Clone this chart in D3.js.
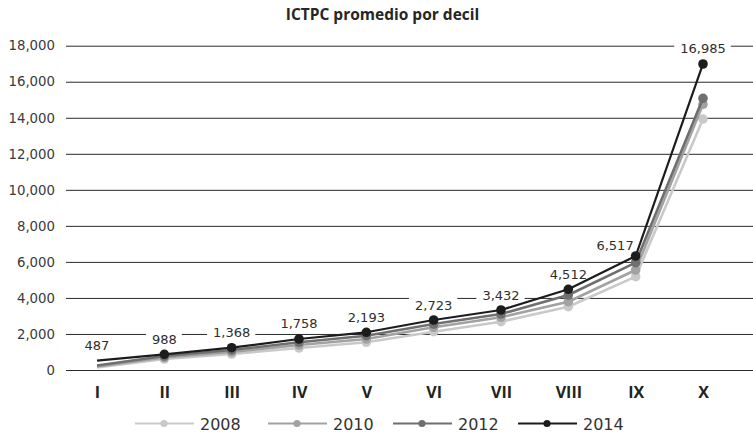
<!DOCTYPE html>
<html>
<head>
<meta charset="utf-8">
<script src="https://cdn.jsdelivr.net/npm/d3@7/dist/d3.min.js"></script>
<style>
  html, body { margin: 0; padding: 0; background: #fff; }
  svg { display: block; }
</style>
</head>
<body>
<svg id="chart" width="753" height="436"></svg>
<script>
// ---------- data ----------
const title = "ICTPC promedio por decil";
const categories = ["I", "II", "III", "IV", "V", "VI", "VII", "VIII", "IX", "X"];
const seriesNames = ["2008", "2010", "2012", "2014"];
const values2008 = [140, 610, 888, 1221, 1538, 2126, 2681, 3514, 5180, 13930];
const values2010 = [194, 694, 999, 1388, 1721, 2370, 2925, 3790, 5550, 14750];
const values2012 = [250, 777, 1110, 1538, 1904, 2553, 3108, 4163, 5956, 15080];
const values2014 = [516, 871, 1238, 1721, 2093, 2775, 3330, 4479, 6328, 16985];
const labels2014 = ["487", "988", "1,368", "1,758", "2,193", "2,723", "3,432", "4,512", "6,517", "16,985"];
const yTicks = [0, 2000, 4000, 6000, 8000, 10000, 12000, 14000, 16000, 18000];

// ---------- styles ----------
const colors = ["#c9c9c9", "#a2a2a2", "#6f6f6f", "#1c1c1c"];
const widths = [2.6, 2.6, 2.6, 2.2];
const numFont = "'DejaVu Sans', sans-serif";
const boldFont = "'Open Sans', sans-serif";

const series = seriesNames.map((name, i) => ({
  name,
  values: [values2008, values2010, values2012, values2014][i],
  color: colors[i],
  width: widths[i]
}));

const svg = d3.select("#chart");

const x = d3.scalePoint().domain(categories).range([97, 703]);
const y = d3.scaleLinear().domain([0, 18000]).range([370, 45.7]);

// title
svg.append("text")
  .attr("x", 382.5).attr("y", 19.5)
  .attr("text-anchor", "middle")
  .attr("font-family", boldFont).attr("font-weight", 700)
  .attr("font-size", 15.5).attr("fill", "#262626")
  .text(title);

// y axis gridlines + labels
const yAxis = d3.axisLeft(y)
  .tickValues(yTicks)
  .tickFormat(d3.format(","))
  .tickSize(-(753 - 66))
  .tickPadding(11);
const yG = svg.append("g").attr("transform", "translate(66,0)").call(yAxis);
yG.select(".domain").remove();
yG.selectAll(".tick line").attr("stroke", "#2a2a2a").attr("stroke-width", 1);
yG.selectAll(".tick text")
  .attr("font-family", numFont).attr("font-size", 13.3)
  .attr("fill", "#3a3a3a");

// x axis labels
const xAxis = d3.axisBottom(x).tickSize(0).tickPadding(0);
const xG = svg.append("g").attr("transform", "translate(0,384)").call(xAxis);
xG.select(".domain").remove();
xG.selectAll(".tick text")
  .attr("font-family", boldFont).attr("font-weight", 700)
  .attr("font-size", 16).attr("fill", "#222")
  .attr("dy", "0.85em");

// data label backgrounds (below lines), texts (above lines)
const lastS = series[3];
const rectG = svg.append("g");
const linesG = svg.append("g");
const textG = svg.append("g");

const labelTexts = textG.selectAll("text")
  .data(labels2014)
  .join("text")
  .attr("x", (d, i) => i === 8 ? x(categories[i]) - 2 : x(categories[i]))
  .attr("y", (d, i) => i === 8 ? y(lastS.values[i]) - 5.5 : y(lastS.values[i]) - 10.5)
  .attr("text-anchor", (d, i) => i === 8 ? "end" : "middle")
  .attr("font-family", numFont).attr("font-size", 13)
  .attr("fill", "#2e2e2e")
  .text(d => d);
labelTexts.each(function () {
  const b = this.getBBox();
  rectG.append("rect")
    .attr("x", b.x - 6).attr("y", b.y - 1)
    .attr("width", b.width + 11).attr("height", b.height + 2)
    .attr("fill", "#fff");
});

// lines
const line = d3.line().x((d, i) => x(categories[i])).y(d => y(d));
series.forEach(s => {
  linesG.append("path")
    .attr("d", line(s.values))
    .attr("fill", "none")
    .attr("stroke", s.color)
    .attr("stroke-width", s.width)
    .attr("stroke-linejoin", "round");
  linesG.selectAll(null)
    .data(s.values.slice(1))
    .join("circle")
    .attr("cx", (d, i) => x(categories[i + 1]))
    .attr("cy", d => y(d))
    .attr("r", 4.8)
    .attr("fill", s.color);
});

// legend
const legendStarts = [135, 268, 393, 518];
const legendY = 423.5;
const leg = svg.append("g");
series.forEach((s, i) => {
  const x0 = legendStarts[i];
  leg.append("line")
    .attr("x1", x0).attr("x2", x0 + 59)
    .attr("y1", legendY).attr("y2", legendY)
    .attr("stroke", s.color).attr("stroke-width", 2.2);
  leg.append("circle")
    .attr("cx", x0 + 29).attr("cy", legendY).attr("r", 3.6)
    .attr("fill", s.color);
  leg.append("text")
    .attr("x", x0 + 65).attr("y", 430)
    .attr("font-family", numFont).attr("font-size", 16)
    .attr("fill", "#333")
    .text(s.name);
});
</script>
</body>
</html>
